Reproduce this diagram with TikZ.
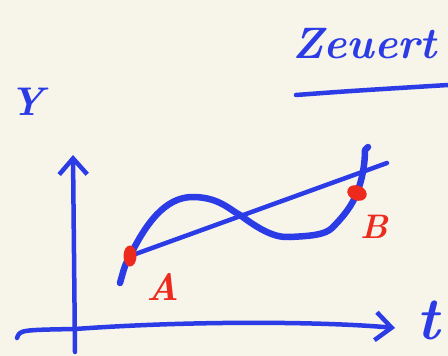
\documentclass[tikz,border=0pt]{standalone}
\usetikzlibrary{arrows.meta, shapes.geometric, positioning}
\definecolor{papel}{HTML}{F7F4EA}
\definecolor{tinta}{HTML}{2B3BE6}
\definecolor{rojo}{HTML}{EC2A1E}
\tikzset{
  trazo/.style={draw=tinta, line width=4.5pt, line cap=round, line join=round},
  eje/.style={trazo, -{Straight Barb[length=16pt, width=28pt, line width=4.5pt]}},
  punto/.style={ellipse, fill=rojo, inner sep=0pt},
  etiq/.style={text=rojo, font=\bfseries\itshape\fontsize{#1}{#1}\selectfont},
  letra/.style={text=tinta, font=\bfseries\itshape\fontsize{#1}{#1}\selectfont}
}
\begin{document}
\begin{tikzpicture}[x=1pt, y=-1pt]
  \fill[papel] (0,0) rectangle (448,356);
  \useasboundingbox (0,0) rectangle (448,356);
  % titulo
  \node (titulo) [letra=44, anchor=west, inner sep=0pt] at (292,44) {Zeuert};
  \draw[trazo] (296,95) .. controls (350,91) .. (448,85);
  % ejes
  \draw[eje] (75,352) -- (73,155);
  \draw[eje] (17,338) .. controls (20,330) .. (75,329) .. controls (200,320) and (330,322) .. (395,328);
  \node (ylab) [letra=40] at (27,102) {Y};
  \node (tlab) [letra=60] at (428,320) {t};
  % recta y curva
  \coordinate (ca) at (130,256);
  \coordinate (cb) at (357,193);
  \coordinate (fin) at (387,163);
  \draw[trazo] (ca) -- (fin);
  \draw[trazo, line width=6.5pt] (120,283) .. controls (125,265) .. (ca)
    .. controls (150,215) and (170,196) .. (195,197)
    .. controls (220,198) and (230,210) .. (240,215)
    .. controls (260,230) and (275,238) .. (290,237)
    .. controls (310,236) and (325,235) .. (332,228)
    .. controls (345,215) and (352,205) .. (cb)
    .. controls (362,180) and (365,165) .. (365,150) -- (368,147);
  % puntos
  \node (pa) [punto, minimum width=13pt, minimum height=21pt] at (ca) {};
  \node (pb) [punto, minimum width=20pt, minimum height=15pt, rotate=-20] at (cb) {};
  \node (la) [etiq=38] at (163,287) {A};
  \node (lb) [etiq=34] at (374,227) {B};
\end{tikzpicture}
\end{document}
